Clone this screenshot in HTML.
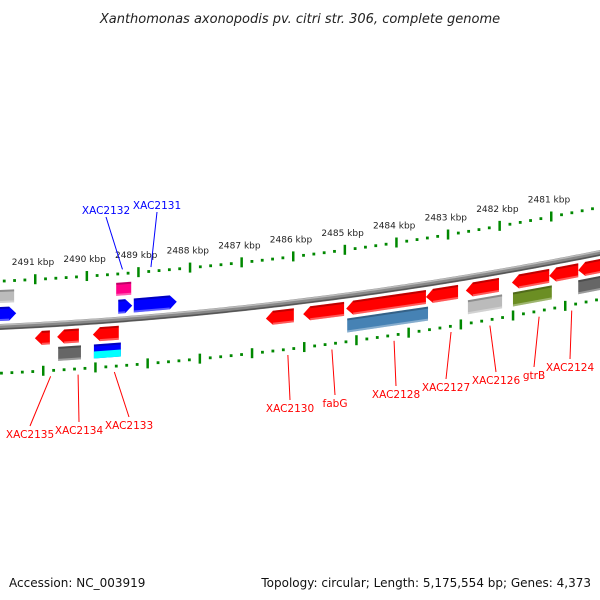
<!DOCTYPE html>
<html><head><meta charset="utf-8"><style>
body{margin:0;background:#fff;}
svg{display:block;font-family:"DejaVu Sans","Liberation Sans",sans-serif;}
</style></head><body>
<svg id="chart" width="600" height="600" viewBox="0 0 600 600">
<text x="300" y="23" text-anchor="middle" font-size="13" font-style="italic" fill="#222">Xanthomonas axonopodis pv. citri str. 306, complete genome</text>
<text x="9" y="587" font-size="12" fill="#111">Accession: NC_003919</text>
<text x="591" y="587" font-size="12" fill="#111" text-anchor="end">Topology: circular; Length: 5,175,554 bp; Genes: 4,373</text>
<g id="ticks"></g>
<g id="backbone"></g>
<g id="genes"></g>
<g id="labels"></g>
</svg>
<script>
const tickKbp = [2491,2490,2489,2488,2487,2486,2485,2484,2483,2482,2481];
const geneNames = ["g-left-gray","g-left-blue","XAC2132-pink","XAC2132","XAC2131","XAC2135","XAC2134","XAC2133","XAC2134-b","XAC2133-b","XAC2130","fabG","XAC2128","XAC2128-b","XAC2127","XAC2126","XAC2126-b","gtrB","gtrB-b","XAC2124","g-right-red","g-right-gray"];
const geneStart = [2491.80,2491.80,2489.51,2489.47,2489.17,2491.08,2490.65,2489.96,2490.63,2489.94,2486.62,2485.90,2485.07,2485.05,2483.53,2482.76,2482.72,2481.87,2481.85,2481.15,2480.59,2480.59];
const geneEnd   = [2491.48,2491.44,2489.22,2489.20,2488.34,2490.79,2490.23,2489.46,2490.19,2489.42,2486.08,2485.11,2483.53,2483.49,2482.91,2482.12,2482.06,2481.15,2481.10,2480.59,2480.10,2480.10];
const geneStrand = [0,1,0,1,1,-1,-1,-1,0,0,-1,-1,-1,0,-1,-1,0,-1,0,-1,-1,0];
const geneRow = [-2,-1,-2,-1,-1,1,1,1,2,2,1,1,1,2,1,1,2,1,2,1,1,2];
const geneColor = ["#bbb","#00f","#f08","#00f","#00f","#f00","#f00","#f00","#666","#00f","#f00","#f00","#f00","#4682b4","#f00","#f00","#bbb","#f00","#6b8e23","#f00","#f00","#666"];
const labelText = ["XAC2135","XAC2134","XAC2133","XAC2130","fabG","XAC2128","XAC2127","XAC2126","gtrB","XAC2124","XAC2132","XAC2131"];
const labelGeneKbp = [2490.93,2490.40,2489.70,2486.35,2485.50,2484.30,2483.20,2482.45,2481.50,2480.87,2489.35,2488.80];
const labelSide = [1,1,1,1,1,1,1,1,1,1,-1,-1];
const labelAt = [[30,438],[79,434],[129,429],[290,412],[335,407],[396,398],[446,391],[496,384],[534,379],[570,371],[106,214],[157,209]];

const NS="http://www.w3.org/2000/svg";
function yb(x){return 327-0.0463*x-0.0001284*x*x;}
function xk(k){return 39+(2491-k)*51.8;}
function el(t,a,p){const e=document.createElementNS(NS,t);for(const k in a)e.setAttribute(k,a[k]);p.appendChild(e);return e;}
const ticksG=document.getElementById('ticks'),bbG=document.getElementById('backbone'),genesG=document.getElementById('genes'),labelsG=document.getElementById('labels');

// backbone
let topPts=[],botPts=[];
for(let x=-5;x<=605;x+=5){topPts.push(x+','+(yb(x)-3));botPts.unshift(x+','+(yb(x)+3));}
const backPoly=el('polygon',{points:topPts.concat(botPts).join(' '),fill:'#888'},bbG);


let hl=[];for(let x=-5;x<=605;x+=5)hl.push(x+','+(yb(x)-2));
el('polyline',{points:hl.join(' '),fill:'none',stroke:'#bbb','stroke-width':1.5},bbG);
let dl=[];for(let x=-5;x<=605;x+=5)dl.push(x+','+(yb(x)+2));
el('polyline',{points:dl.join(' '),fill:'none',stroke:'#555','stroke-width':1.5},bbG);

// ticks
function tickLine(off,x0,sp,name){
  for(let i=-4;i<=60;i++){
    const k=2491+1-i*0.2;
    const x=x0+(2491-k)*sp; if(x<-3||x>603)continue;
    const y=yb(x)+off;
    const major=Math.abs(k-Math.round(k))<0.01;
    const d=major?el('rect',{x:x-1,y:y-5,width:2.5,height:10,fill:'#080'},ticksG):el('rect',{x:x-1.2,y:y-1.2,width:2.8,height:2.8,fill:'#080'},ticksG);
    
    
  }
}
tickLine(-46,35,51.6,'upper');
tickLine(46,43,52.2,'lower');
tickKbp.forEach(k=>{
  const x=35+(2491-k)*51.6;const y=yb(x)-46-14;
  const t=el('text',{x:x-2,y:y,'font-size':9,'text-anchor':'middle',fill:'#222'},ticksG);
  t.textContent=k+' kbp';
  
  
});

// genes
const rowOff={'-2':[-37,-24],'-1':[-20,-6],'1':[6,20],'2':[23,37]};
geneNames.forEach((n,i)=>{
  let x1=xk(geneStart[i]),x2=xk(geneEnd[i]);
  const o=rowOff[geneRow[i]],h=7;
  const T=x=>yb(x)+o[0],B=x=>yb(x)+o[1],M=x=>yb(x)+(o[0]+o[1])/2;
  let pts;
  if(geneStrand[i]===1){pts=[[x1,T(x1)],[x2-h,T(x2-h)],[x2,M(x2)],[x2-h,B(x2-h)],[x1,B(x1)]];}
  else if(geneStrand[i]===-1){pts=[[x1+h,T(x1+h)],[x2,T(x2)],[x2,B(x2)],[x1+h,B(x1+h)],[x1,M(x1)]];}
  else pts=[[x1,T(x1)],[x2,T(x2)],[x2,B(x2)],[x1,B(x1)]];
  const g=el('g',{},genesG);
  
  
  el('polygon',{points:pts.map(p=>p.join(',')).join(' '),fill:geneColor[i]},g);
  const a=Math.min(x1,x2)+(geneStrand[i]===-1?h:0), b=Math.max(x1,x2)-(geneStrand[i]===1?h:0);
  el('line',{x1:a,y1:T(a)+1,x2:b,y2:T(b)+1,stroke:'rgba(0,0,0,0.25)','stroke-width':2},g);
  el('line',{x1:a,y1:B(a)-1,x2:b,y2:B(b)-1,stroke:'rgba(255,255,255,0.35)','stroke-width':2},g);
});
// cyan lower half of XAC2133-b
{const i=geneNames.indexOf('XAC2133-b');const x1=xk(geneStart[i]),x2=xk(geneEnd[i]);
 const c=el('polygon',{points:`${x1},${yb(x1)+30} ${x2},${yb(x2)+30} ${x2},${yb(x2)+37} ${x1},${yb(x1)+37}`,fill:'#0ff'},genesG);
 
 }

// labels
labelText.forEach((t,i)=>{
  const side=labelSide[i];const lx=labelAt[i][0],ly=labelAt[i][1];
  const col=side>0?'#f00':'#00f';
  const gx=xk(labelGeneKbp[i]);
  const sx=gx+(side>0?8:-2);const sy=yb(sx)+(side>0?52:-50);
  const ln=el('line',{x1:sx,y1:sy,x2:lx,y2:side>0?ly-12:ly+3,stroke:col,'stroke-width':1},labelsG);
  
  
  const tx=el('text',{x:lx,y:ly,'font-size':10.5,'text-anchor':'middle',fill:col},labelsG);
  tx.textContent=t;
  
  
});
</script>
</body></html>
